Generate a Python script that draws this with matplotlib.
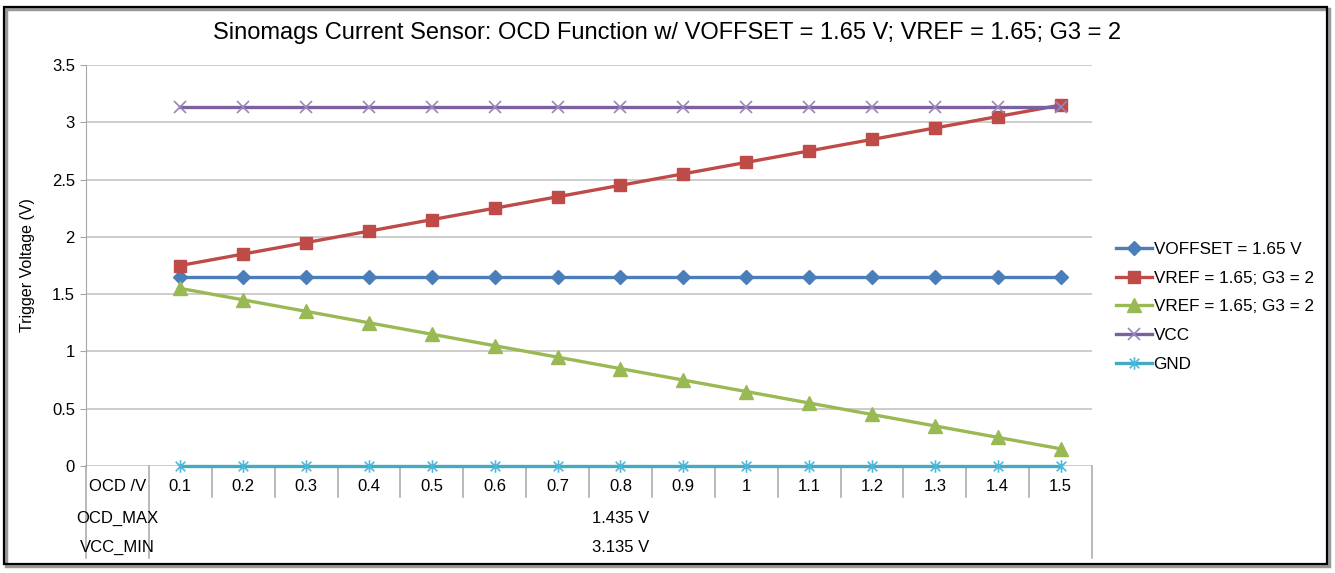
import numpy as np
import matplotlib.pyplot as plt
from matplotlib.path import Path
import matplotlib.transforms as mtransforms

plt.rcParams['font.family'] = ['Liberation Sans', 'DejaVu Sans']

ocd = ['0.1', '0.2', '0.3', '0.4', '0.5', '0.6', '0.7', '0.8', '0.9', '1',
       '1.1', '1.2', '1.3', '1.4', '1.5']
voffset = [1.65] * 15
vref_hi = [1.75, 1.85, 1.95, 2.05, 2.15, 2.25, 2.35, 2.45, 2.55, 2.65,
           2.75, 2.85, 2.95, 3.05, 3.15]
vref_lo = [1.55, 1.45, 1.35, 1.25, 1.15, 1.05, 0.95, 0.85, 0.75, 0.65,
           0.55, 0.45, 0.35, 0.25, 0.15]
vcc = [3.135] * 15
gnd = [0.0] * 15
row_labels = ['OCD /V', 'OCD_MAX', 'VCC_MIN']
row_values = ['1.435 V', '3.135 V']

# excel style star marker: x plus vertical bar
star = Path([(-1, -1), (1, 1), (-1, 1), (1, -1), (0, -1.3), (0, 1.3)],
            [Path.MOVETO, Path.LINETO, Path.MOVETO, Path.LINETO, Path.MOVETO, Path.LINETO])

W, H = 1335, 573
fig = plt.figure(figsize=(W / 100, H / 100), dpi=100)
ax = fig.add_axes([86 / W, 1 - 466 / H, 1006 / W, 401 / H])

x = np.arange(len(ocd))
lw = 2.4
ax.plot(x, voffset, color='#4A7EBB', lw=lw, marker='D', ms=7.5, label='VOFFSET = 1.65 V')
ax.plot(x, vref_hi, color='#BE4B48', lw=lw, marker='s', ms=8.5, label='VREF = 1.65; G3 = 2')
ax.plot(x, vref_lo, color='#98B954', lw=lw, marker='^', ms=9.5, label='VREF = 1.65; G3 = 2',
        clip_on=False)
ax.plot(x, vcc, color='#7D60A0', lw=lw, marker='x', ms=8.5, mew=1.2,
        mec='#9A85BC', label='VCC')
ax.plot(x, gnd, color='#46AAC5', lw=lw, marker=star, ms=9, mew=1.2,
        mec='#4FB8D8', label='GND', clip_on=False, zorder=5)

ax.set_xlim(-1.5, 14.5)
ax.set_ylim(0, 3.5)
ax.set_yticks(np.arange(0, 3.51, 0.5))
ax.set_yticklabels(['0', '0.5', '1', '1.5', '2', '2.5', '3', '3.5'])
ax.grid(axis='y', color='#BEBEBE', lw=1.1)
ax.set_axisbelow(True)
for s in ['top', 'right', 'bottom']:
    ax.spines[s].set_visible(False)
ax.spines['left'].set_color('#A6A6A6')
ax.spines['left'].set_bounds(0, 3.5)
ax.tick_params(axis='y', length=4, color='#A6A6A6', labelsize=12, pad=4)
ax.set_xticks([])
ax.set_ylabel('Trigger Voltage (V)', fontsize=11.5, labelpad=12)

fig.text(667 / W, 1 - 33 / H,
         'Sinomags Current Sensor: OCD Function w/ VOFFSET = 1.65 V; VREF = 1.65; G3 = 2',
         fontsize=17, ha='center', va='center')

# data table below the plot
tr = mtransforms.blended_transform_factory(ax.transData, ax.transAxes)
gray = '#A6A6A6'
for b in np.arange(0.5, 14.0, 1.0):
    ax.plot([b, b], [0, -0.077], transform=tr, color=gray, lw=1.1, clip_on=False)
for b in [-1.5, -0.5, 14.5]:
    ax.plot([b, b], [0, -0.229], transform=tr, color=gray, lw=1.1, clip_on=False)
ys = [-0.05, -0.13, -0.204]
for lab, yy in zip(row_labels, ys):
    ax.text(-1.0, yy, lab, transform=tr, ha='center', va='center', fontsize=12)
for i, lab in enumerate(ocd):
    ax.text(i, ys[0], lab, transform=tr, ha='center', va='center', fontsize=12)
for v, yy in zip(row_values, ys[1:]):
    ax.text(7, yy, v, transform=tr, ha='center', va='center', fontsize=12)

leg = ax.legend(loc='upper left', bbox_to_anchor=(1116 / W, 1 - 242 / H),
                bbox_transform=fig.transFigure, frameon=False, fontsize=12.3,
                handlelength=2.1, handletextpad=0.1, labelspacing=0.8,
                borderpad=0, borderaxespad=0)

# outer frame with shadow
fig.patches.append(plt.Rectangle((6 / W, 1 - 566 / H), 1323 / W, 557 / H,
                                 transform=fig.transFigure, fill=False,
                                 ec='#999999', lw=2.5))
fig.patches.append(plt.Rectangle((4 / W, 1 - 564 / H), 1323 / W, 557 / H,
                                 transform=fig.transFigure, fill=False,
                                 ec='black', lw=1.6))

fig.savefig('out.png', dpi=100)
